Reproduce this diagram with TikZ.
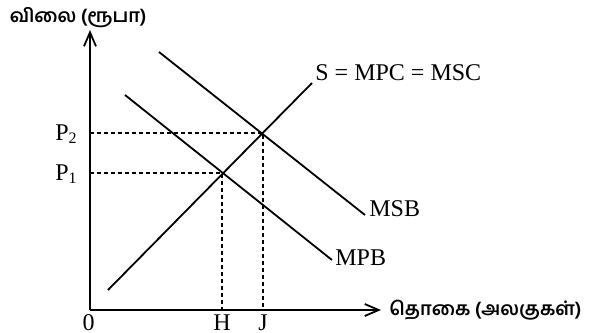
\documentclass[tikz,border=0pt]{standalone}
\usepackage{fontspec}
\setmainfont{Liberation Serif}
\newfontfamily\tamilfont[Script=Tamil]{Hind Madurai}
\usetikzlibrary{
    arrows.meta,
    positioning
}

\begin{document}
\begin{tikzpicture}[
x=0.5pt, y=-0.5pt,
font=\fontsize{12}{14}\selectfont,
axis/.style={
line width=0.9pt,
-{Straight Barb[length=7pt,width=6pt]}
},
curve/.style={
line width=0.9pt
},
guide/.style={
line width=0.7pt,
dash pattern=on 2pt off 1.5pt
},
lbl/.style={
inner sep=1pt
},
tamil/.style={
inner sep=1pt,
font=\tamilfont\bfseries\fontsize{9.4}{11}\selectfont
}
]
\useasboundingbox (0,0) rectangle (591,333);

% axes
\coordinate (origin) at (90,310);
\coordinate (ytop) at (90,30);
\coordinate (xend) at (381,310);

\draw[axis] (origin) -- (ytop);
\draw[axis] (origin) -- (xend);

\node[tamil, anchor=south] (ylabel)
at ([xshift=-6pt, yshift=0pt]ytop) {விலை (ரூபா)};
\node[tamil, right=3pt of xend] (xlabel)
{தொகை (அலகுகள்)};
\node[lbl, below left=1pt and -3.5pt of origin] (zero) {0};

% curves
\coordinate (sstart) at (108,290);
\coordinate (send) at (312,83);
\coordinate (mpbstart) at (125,95);
\coordinate (mpbend) at (332,260);
\coordinate (msbstart) at (159,52);
\coordinate (msbend) at (365,215);

\draw[curve] (sstart) -- (send);
\draw[curve] (mpbstart) -- (mpbend);
\draw[curve] (msbstart) -- (msbend);

\node[lbl, above right=0pt and 0.5pt of send] (slabel)
{S = MPC = MSC};
\node[lbl, anchor=west] (msblabel)
at ([xshift=1pt, yshift=3pt]msbend) {MSB};
\node[lbl, anchor=west] (mpblabel)
at ([xshift=0.5pt, yshift=1pt]mpbend) {MPB};

% equilibrium points
\coordinate (e1) at (222,173);
\coordinate (e2) at (263,133);
\coordinate (p1) at (origin |- e1);
\coordinate (p2) at (origin |- e2);
\coordinate (h) at (e1 |- origin);
\coordinate (j) at (e2 |- origin);

\draw[guide] (p1) -- (e1) -- (h);
\draw[guide] (p2) -- (e2) -- (j);

\node[lbl, anchor=base east] (p1label)
at ([xshift=-5pt, yshift=-3.5pt]p1) {P\textsubscript{1}};
\node[lbl, anchor=base east] (p2label)
at ([xshift=-5pt, yshift=-3.5pt]p2) {P\textsubscript{2}};
\node[lbl, below=1pt of h] (hlabel) {H};
\node[lbl, below=1pt of j] (jlabel) {J};

\end{tikzpicture}
\end{document}
